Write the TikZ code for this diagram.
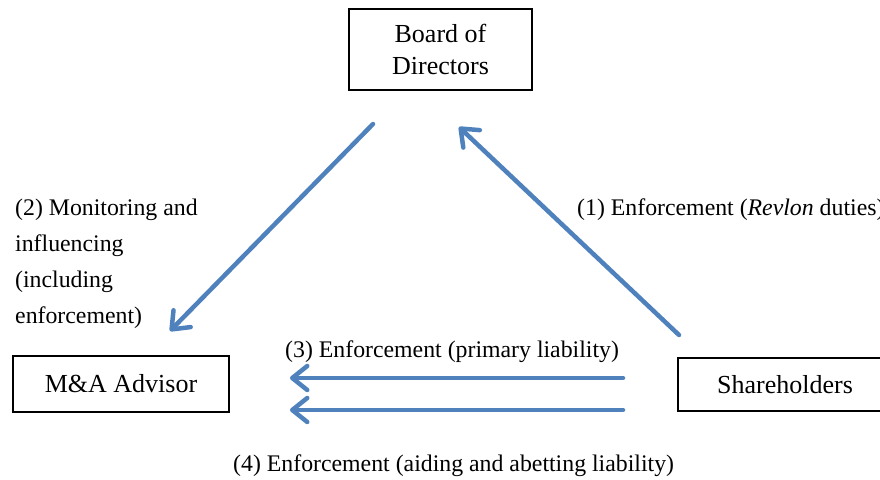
\documentclass[tikz,border=0pt]{standalone}
\usepackage{fontspec}
\setmainfont{Liberation Serif}
\usetikzlibrary{arrows.meta}
\definecolor{steelblue}{RGB}{79,129,189}
\tikzset{%
    party/.style={draw=black, line width=1.6pt, align=center,
        font=\fontsize{26}{32.5}\selectfont},
    flow/.style={steelblue, line width=4.5pt, line cap=round,
        -{Straight Barb[length=15pt,width=24pt,round]}},
    caption/.style={align=left, inner sep=0pt,
        font=\fontsize{23.8}{36}\selectfont}
}

\begin{document}
\begin{tikzpicture}[x=1pt,y=-1pt]
    \clip (0,0) rectangle (880,479);
    \node[party, minimum width=183pt, minimum height=81pt] (board) at (440.5,49.5) {Board of\\Directors};
    \node[party, minimum width=216pt, minimum height=56pt] (advisor) at (121,384) {M\&A Advisor};
    \node[party, minimum width=214pt, minimum height=53pt] (holders) at (785,384.5) {Shareholders};
    % ends of the arrows
    \coordinate (boardL) at (373,124);
    \coordinate (boardR) at (459,127);
    \coordinate (advTop) at (170,331);
    \coordinate (holdTop) at (679,335);
    \coordinate (holdA) at (623,378);
    \coordinate (holdB) at (623,410);
    \coordinate (advA) at (290,378);
    \coordinate (advB) at (290,410);
    \draw[flow] (holdTop) -- (boardR);
    \draw[flow] (boardL) -- (advTop);
    \draw[flow] (holdA) -- (advA);
    \draw[flow] (holdB) -- (advB);
    \node[caption, anchor=base west] (l1) at (577,215) {(1) Enforcement (\textit{Revlon} duties)};
    \node[caption, anchor=north west] (l2) at (15,198.5) {(2) Monitoring and\\influencing\\(including\\enforcement)};
    \node[caption, anchor=base west] (l3) at (285,357) {(3) Enforcement (primary liability)};
    \node[caption, anchor=base west] (l4) at (233,471) {(4) Enforcement (aiding and abetting liability)};
\end{tikzpicture}
\end{document}
